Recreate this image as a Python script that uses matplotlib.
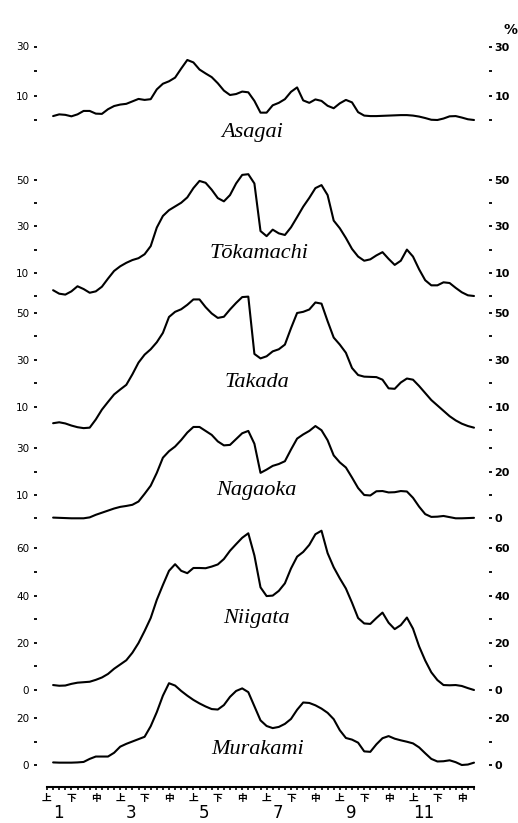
import numpy as np
import matplotlib.pyplot as plt

# x axis unit: one pentad (5 days), 0 = 1 January
pentads = np.arange(1, 71)

# percentage values, one per pentad
asagai = [1.6, 2.3, 2.1, 1.5, 2.3, 3.7, 3.7, 2.6, 2.5, 4.4,
          5.7, 6.3, 6.6, 7.6, 8.6, 8.2, 8.5, 12.5, 14.8, 15.8,
          17.3, 21.0, 24.5, 23.5, 20.6, 19.0, 17.5, 15.0, 12.0, 10.2,
          10.6, 11.6, 11.3, 7.8, 3.0, 3.0, 6.0, 7.0, 8.5, 11.5,
          13.3, 8.0, 7.0, 8.4, 7.8, 5.8, 4.8, 6.8, 8.2, 7.2,
          3.2, 1.8, 1.6, 1.6, 1.7, 1.8, 1.9, 2.0, 2.0, 1.8,
          1.4, 0.8, 0.1, 0.0, 0.6, 1.5, 1.6, 1.0, 0.3, 0.0]

tokamachi = [2.5, 1.0, 0.6, 2.0, 4.2, 3.0, 1.4, 2.0, 4.0, 7.5,
             10.8, 12.8, 14.3, 15.5, 16.3, 18.0, 21.5, 29.5, 34.5, 37.0,
             38.6, 40.2, 42.5, 46.5, 49.6, 48.8, 45.8, 42.2, 40.8, 43.5,
             48.5, 52.2, 52.5, 48.5, 28.0, 25.8, 28.6, 27.0, 26.3, 29.6,
             34.0, 38.5, 42.3, 46.5, 47.8, 43.5, 32.5, 29.2, 25.0, 20.3,
             17.0, 15.2, 15.8, 17.5, 18.9, 16.0, 13.4, 15.2, 20.0, 17.0,
             11.5, 6.8, 4.6, 4.6, 5.9, 5.6, 3.5, 1.6, 0.3, 0.0]

takada = [2.9, 3.3, 2.8, 1.9, 1.2, 0.8, 1.0, 4.5, 8.7, 12.0,
          15.2, 17.3, 19.3, 23.8, 28.8, 32.2, 34.5, 37.5, 41.5, 48.3,
          50.5, 51.6, 53.5, 55.8, 55.8, 52.5, 49.8, 47.9, 48.4, 51.5,
          54.3, 56.8, 57.0, 32.5, 30.6, 31.5, 33.6, 34.5, 36.5, 43.5,
          50.0, 50.5, 51.5, 54.5, 54.0, 46.5, 39.5, 36.5, 33.0, 26.5,
          23.5, 22.8, 22.7, 22.6, 21.5, 17.8, 17.6, 20.3, 22.0, 21.5,
          18.8, 15.8, 12.8, 10.5, 8.2, 5.9, 4.1, 2.7, 1.7, 1.0]

nagaoka = [0.3, 0.2, 0.1, 0.0, 0.0, 0.0, 0.4, 1.5, 2.4, 3.3,
           4.2, 4.9, 5.3, 5.8, 7.2, 10.5, 14.0, 19.5, 26.0, 28.8,
           30.8, 33.6, 36.8, 39.2, 39.2, 37.5, 35.8, 33.0, 31.3, 31.5,
           34.0, 36.5, 37.5, 32.0, 19.5, 20.9, 22.5, 23.3, 24.5, 29.5,
           34.2, 36.0, 37.5, 39.6, 37.8, 33.5, 27.0, 24.0, 21.8, 17.5,
           13.0, 10.0, 9.8, 11.6, 11.7, 11.1, 11.2, 11.7, 11.5, 8.8,
           5.0, 1.8, 0.6, 0.7, 1.0, 0.5, 0.0, 0.0, 0.1, 0.2]

niigata = [2.1, 1.8, 1.9, 2.6, 3.1, 3.3, 3.5, 4.3, 5.3, 6.8,
           9.0, 10.8, 12.6, 15.8, 19.9, 25.0, 30.5, 38.2, 44.5, 50.5,
           53.3, 50.5, 49.5, 51.7, 51.7, 51.6, 52.3, 53.2, 55.5, 59.0,
           61.8, 64.5, 66.4, 57.0, 43.5, 39.8, 40.0, 42.0, 45.2, 51.5,
           56.5, 58.5, 61.5, 66.0, 67.5, 58.0, 52.0, 47.3, 43.0, 37.0,
           30.5, 28.2, 28.0, 30.5, 32.8, 28.5, 25.8, 27.5, 30.7, 26.0,
           18.5, 12.5, 7.5, 4.2, 2.1, 2.0, 2.1, 1.7, 0.8, 0.0]

murakami = [1.1, 1.0, 1.0, 1.0, 1.1, 1.3, 2.6, 3.6, 3.6, 3.6,
            5.2, 7.8, 9.0, 10.0, 11.0, 12.0, 16.5, 22.5, 29.5, 34.8,
            33.8, 31.5, 29.5, 27.7, 26.2, 24.9, 23.8, 23.6, 25.5, 29.0,
            31.5, 32.6, 31.0, 25.0, 19.0, 16.6, 15.7, 16.2, 17.5, 19.6,
            23.5, 26.6, 26.4, 25.4, 24.0, 22.2, 19.5, 14.8, 11.5, 10.8,
            9.5, 5.8, 5.6, 8.8, 11.4, 12.3, 11.2, 10.5, 9.9, 9.2,
            7.5, 5.0, 2.6, 1.5, 1.6, 2.0, 1.2, 0.0, 0.2, 1.0]

station_names = ['Asagai', 'Tōkamachi', 'Takada', 'Nagaoka', 'Niigata', 'Murakami']
series = [asagai, tokamachi, takada, nagaoka, niigata, murakami]

# tick values and which of them carry a number (left / right)
y_max = [30, 50, 50, 30, 60, 20]
left_ticks = [[0, 10, 20, 30], [0, 10, 20, 30, 40, 50], [10, 20, 30, 40, 50],
              [0, 10, 20, 30], [0, 10, 20, 30, 40, 50, 60], [0, 10, 20]]
left_labeled = [[10, 30], [10, 30, 50], [10, 30, 50], [10, 30], [0, 20, 40, 60], [0, 20]]
right_ticks = [[0, 10, 20, 30], [0, 10, 20, 30, 40, 50], [0, 10, 20, 30, 40, 50],
               [0, 10, 20, 30], [0, 10, 20, 30, 40, 50, 60], [0, 10, 20]]
right_labeled = [[10, 30], [10, 30, 50], [10, 30, 50], [0, 20], [0, 20, 40, 60], [0, 20]]

dekad_names = ['上', '下', '中']
month_labels = ['1', '3', '5', '7', '9', '11']

# ---- layout (pixels of the 518 x 823 canvas) ----
W, H = 518, 823
X0, X1 = 47, 474
zero_px = [120, 296, 430, 518.3, 690, 765]
px_per_unit = [2.45, 2.32, 2.34, 2.33, 2.36, 2.35]
name_pos = [(33.6, -4.9), (34.8, 18.5), (34.4, 20.5), (34.4, 12.1), (34.3, 30.5), (34.6, 6.4)]

plt.rcParams['font.family'] = ['DejaVu Sans']
fig = plt.figure(figsize=(W / 100, H / 100), dpi=100)
fig.patch.set_facecolor('white')

left = X0 / W
width = (X1 - X0) / W

for i, vals in enumerate(series):
    height_px = y_max[i] * px_per_unit[i]
    bottom = 1 - zero_px[i] / H
    ax = fig.add_axes([left, bottom, width, height_px / H])
    ax.set_facecolor('none')
    ax.set_xlim(0, 70)
    ax.set_ylim(0, y_max[i])
    ax.plot(pentads, vals, color='black', lw=1.5, clip_on=False,
            solid_capstyle='round', solid_joinstyle='round')

    for s in ax.spines.values():
        s.set_color('none')
    ax.spines['left'].set_position(('outward', 7.5))
    ax.set_xticks([])
    ax.set_yticks(left_ticks[i])
    ax.set_yticklabels([str(t) if t in left_labeled[i] else '' for t in left_ticks[i]])
    ax.tick_params(axis='y', direction='out', length=2.2, width=1.3,
                   pad=3, labelsize=7.5)

    axr = ax.twinx()
    axr.set_ylim(0, y_max[i])
    for s in axr.spines.values():
        s.set_color('none')
    axr.spines['right'].set_position(('outward', 11))
    axr.set_yticks(right_ticks[i])
    axr.set_yticklabels([str(t) if t in right_labeled[i] else '' for t in right_ticks[i]])
    axr.tick_params(axis='y', direction='out', length=2.2, width=1.3,
                    pad=1.5, labelsize=8)
    for lab in axr.get_yticklabels():
        lab.set_fontweight('bold')

    nx, ny = name_pos[i]
    ax.text(nx, ny, station_names[i], ha='center', va='center',
            fontsize=16, family='Liberation Serif', style='italic')

    if i == 0:
        axr.annotate('%', xy=(1, 1), xycoords='axes fraction',
                     xytext=(26, 12), textcoords='offset points',
                     ha='center', va='center', fontsize=10, fontweight='bold')

# time axis: pentad ticks, dekad names every 20 days, odd months below
axis_y = 787
axt = fig.add_axes([left, 1 - axis_y / H, width, 0.0005])
axt.set_facecolor('none')
axt.set_xlim(0, 70)
for name, s in axt.spines.items():
    if name != 'bottom':
        s.set_visible(False)
axt.spines['bottom'].set_linewidth(1.5)
axt.set_yticks([])
major = np.arange(0, 70, 4)
axt.set_xticks(major)
axt.set_xticks(np.arange(0, 71, 1), minor=True)
axt.set_xticklabels([dekad_names[k % 3] for k in range(len(major))],
                    family=['Noto Sans CJK JP', 'DejaVu Sans'], fontweight='bold')
axt.tick_params(axis='x', which='both', direction='out', length=2.5, width=1.2,
                pad=2, labelsize=7)
for k, m in enumerate(month_labels):
    axt.annotate(m, xy=(k * 12 + 1.8, 0), xycoords=('data', 'axes fraction'),
                 xytext=(0, -19), textcoords='offset points',
                 ha='center', va='center', fontsize=12)

fig.savefig('out.png', dpi=100, facecolor='white')
